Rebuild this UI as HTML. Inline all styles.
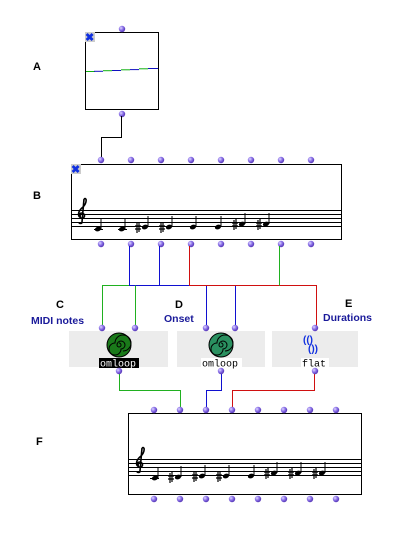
<!DOCTYPE html>
<html><head><style>
body{margin:0;background:#fff;width:404px;height:544px;overflow:hidden;font-family:"Liberation Sans",sans-serif}
</style></head><body>
<svg width="404" height="544" xmlns="http://www.w3.org/2000/svg" font-family="Liberation Sans, sans-serif">
<defs>
<radialGradient id="pg" cx="0.35" cy="0.35" r="0.7"><stop offset="0" stop-color="#e0d8ff"/><stop offset="0.5" stop-color="#8a70e8"/><stop offset="1" stop-color="#5030b0"/></radialGradient>
<g id="p"><circle r="3.2" fill="url(#pg)"/></g>
<g id="n"><ellipse rx="3.2" ry="2.3" fill="#000" transform="rotate(-20)"/><line x1="3" y1="0" x2="3" y2="-11" stroke="#000" stroke-width="1"/></g>
<g id="s"><path d="M-8,-5v10M-6,-6v10M-10,-2h6M-10,1h6" stroke="#000" stroke-width="1.2" fill="none"/></g>
<g id="clef"><path d="M3,-14 C6,-16 6,-10 2,-6 C-3,-2 -4,3 0,5 C4,6 5,1 1,0 C-2,0 -2,3 0,3 M3,-14 L1,9 C1,11 -2,11 -2,9" stroke="#000" stroke-width="1.6" fill="none"/></g>
</defs>
<!-- labels -->
<g font-weight="bold" font-size="11">
<text x="33" y="70">A</text><text x="33" y="199">B</text>
<text x="56" y="308">C</text><text x="175" y="308">D</text><text x="345" y="307">E</text>
<text x="36" y="445">F</text>
<g fill="#1a1a9a" font-size="10.5"><text x="31" y="324">MIDI notes</text><text x="164" y="322">Onset</text><text x="323" y="321">Durations</text></g>
</g>
<!-- box A -->
<rect x="85.5" y="32.5" width="73" height="77" fill="#fff" stroke="#000"/>
<rect x="85" y="32" width="10" height="10" fill="#ccc"/><text x="85" y="41" font-size="11" fill="#1030e0" font-weight="bold">✖</text>
<path d="M86,71.5h9" stroke="#10b010"/><path d="M94,71.3h9" stroke="#1010c0"/><path d="M103,70.7h9" stroke="#10b010"/><path d="M112,70.5h9" stroke="#1010c0"/><path d="M121,69.8h9" stroke="#10b010"/><path d="M130,69.6h9" stroke="#1010c0"/><path d="M139,68.8h9" stroke="#10b010"/><path d="M148,68.5h10" stroke="#1010c0"/>
<use href="#p" x="122" y="29"/><use href="#p" x="122" y="114"/>
<path d="M121.5,116V137.5H101.5V158" stroke="#000" fill="none"/>
<!-- box B -->
<rect x="71.5" y="164.5" width="270" height="75" fill="#fff" stroke="#000"/>
<rect x="71" y="164" width="10" height="10" fill="#ccc"/><text x="71" y="173" font-size="11" fill="#1030e0" font-weight="bold">✖</text>
<g stroke="#000"><path d="M72,210.5h269M72,214.5h269M72,218.5h269M72,222.5h269M72,226.5h269"/></g>
<use href="#clef" x="81" y="213"/>
<path d="M94,229.5h9M118,229.5h9" stroke="#000"/>
<use href="#n" x="98" y="229"/><use href="#n" x="122" y="229"/>
<use href="#n" x="145" y="227"/><use href="#s" x="145" y="228"/>
<use href="#n" x="169" y="227"/><use href="#s" x="169" y="228"/>
<use href="#n" x="193" y="227"/><use href="#n" x="218" y="227"/>
<use href="#n" x="242" y="224"/><use href="#s" x="242" y="225"/>
<use href="#n" x="266" y="224"/><use href="#s" x="266" y="225"/>
<g><use href="#p" x="101" y="160"/><use href="#p" x="131" y="160"/><use href="#p" x="161" y="160"/><use href="#p" x="191" y="160"/><use href="#p" x="221" y="160"/><use href="#p" x="251" y="160"/><use href="#p" x="281" y="160"/><use href="#p" x="311" y="160"/>
<use href="#p" x="101" y="244"/><use href="#p" x="131" y="244"/><use href="#p" x="161" y="244"/><use href="#p" x="191" y="244"/><use href="#p" x="221" y="244"/><use href="#p" x="251" y="244"/><use href="#p" x="281" y="244"/><use href="#p" x="311" y="244"/></g>
<!-- connections -->
<g fill="none">
<path d="M129.5,246V285.5M159.5,246V285.5M129,285.5H190M206.5,285.5V326M235.5,285.5V326" stroke="#1010d0"/>
<path d="M189.5,246V285.5M189,285.5H316.5V326" stroke="#d01010"/>
<path d="M279.5,246V285.5M102.5,326V285.5H129M135.5,285.5V326" stroke="#20b020"/>
<path d="M119.5,373V390.5H180.5V408" stroke="#20b020"/>
<path d="M221.5,373V390.5H206.5V408" stroke="#1010d0"/>
<path d="M314.5,373V390.5H232.5V408" stroke="#d01010"/>
</g>
<!-- boxes C D E -->
<rect x="69" y="331" width="99" height="36" fill="#ececec"/>
<rect x="177" y="331" width="88" height="36" fill="#ececec"/>
<rect x="272" y="331" width="86" height="36" fill="#ececec"/>
<circle cx="119" cy="345" r="12" fill="#1a7a1a" stroke="#000"/>
<circle cx="221" cy="345" r="12" fill="#2a9060" stroke="#000"/>
<g fill="none" stroke="#000" stroke-width="1"><path d="M119,345 m0,-2 a2,2 0 1 1 -2,2 a4,4 0 1 1 4,4 a6,6 0 1 1 -6,-6 a8,8 0 1 1 8,8"/><path d="M221,345 m0,-2 a2,2 0 1 1 -2,2 a4,4 0 1 1 4,4 a6,6 0 1 1 -6,-6 a8,8 0 1 1 8,8"/></g>
<rect x="99" y="358" width="40" height="10" fill="#000"/>
<text x="100" y="366.5" font-size="10" fill="#fff" font-family="Liberation Mono, monospace">omloop</text>
<rect x="201" y="358" width="41" height="10" fill="#fff"/>
<text x="202" y="366.5" font-size="10" font-family="Liberation Mono, monospace">omloop</text>
<rect x="301" y="358" width="28" height="10" fill="#fff"/>
<text x="302" y="366.5" font-size="10" font-family="Liberation Mono, monospace">flat</text>
<text x="303" y="343" font-size="10" font-weight="bold" fill="#1030e0">(()</text>
<text x="308" y="352" font-size="10" font-weight="bold" fill="#1030e0">())</text>
<use href="#p" x="102" y="328"/><use href="#p" x="135" y="328"/><use href="#p" x="206" y="328"/><use href="#p" x="235" y="328"/><use href="#p" x="315" y="328"/>
<use href="#p" x="119" y="371"/><use href="#p" x="221" y="371"/><use href="#p" x="315" y="371"/>
<!-- box F -->
<rect x="128.5" y="413.5" width="233" height="81" fill="#fff" stroke="#000"/>
<g stroke="#000"><path d="M129,459.5h232M129,463.5h232M129,467.5h232M129,471.5h232M129,475.5h232"/></g>
<use href="#clef" x="139" y="462"/>
<path d="M150,478.5h9" stroke="#000"/>
<use href="#n" x="155" y="478"/>
<use href="#n" x="178" y="477"/><use href="#s" x="178" y="478"/>
<use href="#n" x="202" y="476"/><use href="#s" x="202" y="477"/>
<use href="#n" x="226" y="476"/><use href="#s" x="226" y="477"/>
<use href="#n" x="251" y="476"/>
<use href="#n" x="274" y="473"/><use href="#s" x="274" y="474"/>
<use href="#n" x="298" y="473"/><use href="#s" x="298" y="474"/>
<use href="#n" x="322" y="473"/><use href="#s" x="322" y="474"/>
<g><use href="#p" x="154" y="410"/><use href="#p" x="180" y="410"/><use href="#p" x="206" y="410"/><use href="#p" x="232" y="410"/><use href="#p" x="258" y="410"/><use href="#p" x="284" y="410"/><use href="#p" x="310" y="410"/><use href="#p" x="336" y="410"/>
<use href="#p" x="154" y="499"/><use href="#p" x="180" y="499"/><use href="#p" x="206" y="499"/><use href="#p" x="232" y="499"/><use href="#p" x="258" y="499"/><use href="#p" x="284" y="499"/><use href="#p" x="310" y="499"/><use href="#p" x="336" y="499"/></g>
</svg>
</body></html>
